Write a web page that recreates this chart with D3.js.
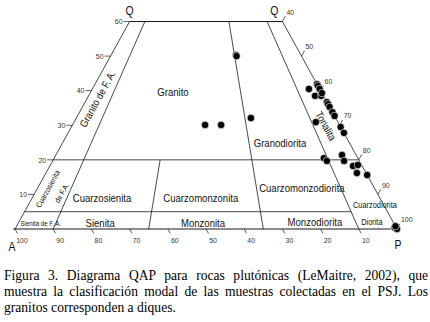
<!DOCTYPE html>
<html>
<head>
<meta charset="utf-8">
<script src="https://cdn.jsdelivr.net/npm/d3@7/dist/d3.min.js"></script>
<style>
  body { margin: 0; background: #fff; }
</style>
</head>
<body>
<div id="chart"></div>
<script>
// modal composition of the samples (%)
var sampleQ = [50.3, 50.0, 30.1, 30.1, 32.1, 41.9, 40.5, 41.4, 40.5, 38.5, 38.5, 39.3, 36.7, 36.1, 35.3,
               33.8, 32.7, 30.9, 29.5, 27.8, 20.5, 19.7, 21.4, 19.7, 18.2, 18.5, 16.2, 15.6, 0.4, 0, 0.8];
var sampleA = [17.0, 17.0, 35.2, 31.0, 22.2, 0, 2.8, 0, 0, 2.2, 0.6, 0, 0, 0, 0,
               0, 0, 5.8, 0, 0, 8.9, 8.5, 3.7, 4.0, 2.4, 1.0, 2.4, 0, 0.4, 0, 0];
var sampleP = [32.7, 33.0, 34.7, 38.9, 45.7, 58.1, 56.7, 58.6, 59.5, 59.3, 60.9, 60.7, 63.3, 63.9, 64.7,
               66.2, 67.3, 63.3, 70.5, 72.2, 70.6, 71.8, 74.9, 76.3, 79.4, 80.5, 81.4, 84.4, 99.2, 100, 99.2];

// axis ticks
var qTicks = [10, 20, 30, 40, 50, 60];
var aTicks = [100, 90, 80, 70, 60, 50, 40, 30, 20, 10];
var pTicks = [40, 50, 60, 70, 80, 90, 100];

// field boundaries: P/(A+P) lines and Q levels
var ratioLines = [10, 35, 65, 90];
var ratioTop   = [60, 20, 60, 60];
var qLevels    = [5, 20, 60];
var qLevelEnd  = [90, 100, 100];

var fieldNames = ["Granito", "Granodiorita", "Cuarzosienita", "Cuarzomonzonita", "Cuarzomonzodiorita",
                  "Sienita", "Monzonita", "Monzodiorita"];
var caption = [
  "Figura 3. Diagrama QAP para rocas plutónicas (LeMaitre, 2002), que",
  "muestra la clasificación modal de las muestras colectadas en el PSJ. Los",
  "granitos corresponden a diques."
];

var width = 430, height = 322;

var svg = d3.select("#chart").append("svg")
  .attr("width", width)
  .attr("height", height);

// ternary projection: x from P + Q/2, y from Q
var x = d3.scaleLinear().domain([0, 100]).range([15, 397]);
var y = d3.scaleLinear().domain([0, 100]).range([229, -116.8]);

function pt(q, p) { return [x(p + q / 2), y(q)]; }
function ptR(q, r) { return pt(q, r / 100 * (100 - q)); }

var line = d3.line();
var ink = "#1a1a1a";

function seg(a, b, w) {
  svg.append("path")
    .attr("d", line([a, b]))
    .attr("fill", "none")
    .attr("stroke", ink)
    .attr("stroke-width", w || 0.8);
}

// outline
seg(pt(0, 0), pt(60, 0));
seg(pt(0, 100), pt(60, 40));
seg([x(0) - 2, y(0)], pt(0, 100), 1);

qLevels.forEach(function(q, i) {
  seg(ptR(q, 0), ptR(q, qLevelEnd[i]), q === 60 ? 1 : 0.8);
});
ratioLines.forEach(function(r, i) {
  seg(ptR(0, r), ptR(ratioTop[i], r));
});

// text helper, slightly narrow like the source
var sx = 0.87;
function label(txt, p, opt) {
  opt = opt || {};
  var t = svg.append("text")
    .attr("transform", "translate(" + p[0] + "," + p[1] + ") rotate(" + (opt.rot || 0) + ") scale(" + sx + ",1)")
    .attr("text-anchor", opt.anchor || "middle")
    .attr("dominant-baseline", "central")
    .attr("font-family", "Liberation Sans, Arial, sans-serif")
    .attr("font-size", opt.size || 11)
    .attr("fill", opt.fill || "#111")
    .text(txt);
  return t;
}

// A ticks on the base (parallel to the Q-P side)
var dirQP = [0.483, 0.875];
var tickInk = "#3a3530";
aTicks.forEach(function(a) {
  var b = pt(0, 100 - a);
  seg(b, [b[0] + dirQP[0] * 5, b[1] + dirQP[1] * 5], 0.7);
  label(a, [b[0] + 7, b[1] + 11], { size: 8, fill: tickInk });
});

// Q ticks on the left side
qTicks.forEach(function(q) {
  var b = pt(q, 0);
  seg(b, [b[0] - 6, b[1]], 0.7);
  label(q, [b[0] - 7, b[1]], { size: 8, anchor: "end", fill: tickInk });
});

// P ticks on the right side
pTicks.forEach(function(p) {
  var b = pt(100 - p, p);
  seg(b, [b[0] + dirQP[0] * 6, b[1] - dirQP[1] * 6], 0.7);
  label(p, [b[0] + 4, b[1] - 9.5], { size: 8, anchor: "start", fill: tickInk });
});

// apex labels
var tl = pt(60, 0), tr = pt(60, 40);
label("Q", [tl[0], tl[1] - 11], { size: 12 });
label("Q", [tr[0] - 8, tr[1] - 11], { size: 12 });
label("A", [x(0) - 3, y(0) + 18], { size: 12 });
label("P", [x(100) + 1, y(0) + 16], { size: 12 });

// field names
var fieldAt = [[39.6, 35.7], [24.9, 75.8], [9.0, 20.1], [9.0, 48.5], [11.9, 78.5],
               [1.7, 21.8], [1.7, 49.2], [2.0, 79.1]];
fieldNames.forEach(function(n, i) {
  label(n, ptR(fieldAt[i][0], fieldAt[i][1]), { size: 11 });
});
label("Diorita", ptR(2.0, 94.3), { size: 8.5 });
label("Cuarzodiorita", ptR(6.9, 97.5), { size: 8.5 });
label("Tonalita", ptR(29.8, 94.7), { size: 10.5, rot: 61 });
label("Granito de F. A.", ptR(37.6, 4.5), { size: 10.5, rot: -61 });
label("Cuarzosienita", ptR(11.6, 3.2), { size: 7.8, rot: -61 });
label("de F.A.", ptR(10.4, 7.9), { size: 7.8, rot: -61 });
label("Sienita de F. A.", ptR(1.7, 6.0), { size: 7 });

// samples
var samples = sampleQ.map(function(q, i) { return { q: q, a: sampleA[i], p: sampleP[i] }; });
svg.append("g").selectAll("circle")
  .data(samples)
  .enter()
  .append("circle")
  .attr("cx", function(d) { return x(d.p + d.q / 2); })
  .attr("cy", function(d) { return y(d.q); })
  .attr("r", 3.7)
  .attr("fill", "#000")
  .attr("stroke", "#fff")
  .attr("stroke-width", 0.6);

// caption, justified
var csx = 0.97, capW = 424;
var cap = svg.append("g")
  .attr("transform", "translate(4,0) scale(" + csx + ",1)");
caption.forEach(function(t, i) {
  var tx = cap.append("text")
    .attr("x", 0)
    .attr("y", 280 + i * 16)
    .attr("font-family", "Liberation Serif, Times New Roman, serif")
    .attr("font-size", 14)
    .attr("fill", "#000")
    .text(t);
  if (i < caption.length - 1) {
    var nat = tx.node().getComputedTextLength();
    var gaps = t.split(" ").length - 1;
    tx.attr("word-spacing", (capW / csx - nat) / gaps);
  }
});
</script>
</body>
</html>
